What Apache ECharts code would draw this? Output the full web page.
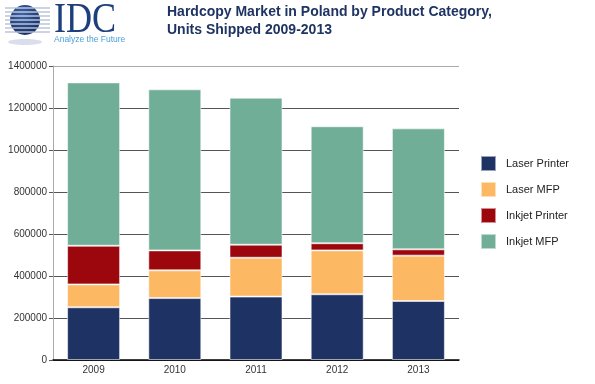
<!DOCTYPE html>
<html>
<head>
<meta charset="utf-8">
<script src="https://cdn.jsdelivr.net/npm/echarts@6/dist/echarts.min.js"></script>
<style>html,body{margin:0;padding:0;background:#fff;}#c{width:595px;height:384px;}</style>
</head>
<body>
<div id="c"></div>
<script>
const categories = ['2009', '2010', '2011', '2012', '2013'];
const laserPrinter = [251000, 295000, 302000, 313000, 281000];
const laserMFP = [109000, 132000, 185000, 209000, 216000];
const inkjetPrinter = [184000, 95000, 62000, 34000, 30000];
const inkjetMFP = [778000, 767000, 700000, 557000, 576000];
const seriesNames = ['Laser Printer', 'Laser MFP', 'Inkjet Printer', 'Inkjet MFP'];
const seriesColors = ['#1e3263', '#fcb862', '#9b070d', '#71ae97'];
const yTicks = [0, 200000, 400000, 600000, 800000, 1000000, 1200000, 1400000];

const chart = echarts.init(document.getElementById('c'), null, {renderer: 'canvas'});
const dataSets = [laserPrinter, laserMFP, inkjetPrinter, inkjetMFP];

// logo graphics
const logo = [];
const stripeYs = [8, 12, 16, 20, 24, 28, 32];
stripeYs.forEach(y => {
  logo.push({type: 'line', shape: {x1: 5, y1: y, x2: 50, y2: y}, style: {stroke: '#9aa8c6', lineWidth: 1.2}, z: 10});
});
logo.push({type: 'ellipse', shape: {cx: 25, cy: 42, rx: 17, ry: 3}, style: {fill: 'rgba(150,160,200,0.35)'}, z: 10});
logo.push({type: 'circle', shape: {cx: 25, cy: 20, r: 15}, style: {fill: new echarts.graphic.RadialGradient(0.4, 0.3, 0.8, [{offset: 0, color: '#3d63a8'}, {offset: 1, color: '#132a5e'}])}, z: 11});
stripeYs.forEach(y => {
  const dy = y - 20;
  if (Math.abs(dy) < 15) {
    const hw = Math.sqrt(225 - dy * dy);
    logo.push({type: 'line', shape: {x1: 25 - hw, y1: y, x2: 25 + hw, y2: y}, style: {stroke: '#ffffff', lineWidth: 1}, z: 12});
  }
});
logo.push({type: 'text', left: 54, top: 0, scaleX: 0.86, style: {text: 'IDC', font: '42px "Liberation Serif", "Times New Roman", serif', fill: '#1e3f7d'}, z: 12});
logo.push({type: 'text', left: 54, top: 35, style: {text: 'Analyze the Future', font: '8.5px "Liberation Sans", Arial, sans-serif', fill: '#4a9fdb'}, z: 12});

chart.setOption({
  animation: false,
  backgroundColor: '#ffffff',
  title: {
    text: 'Hardcopy Market in Poland by Product Category,\nUnits Shipped 2009-2013',
    left: 167, top: 3, padding: 0,
    textStyle: {fontFamily: '"Liberation Sans", Arial, sans-serif', fontSize: 14, fontWeight: 'bold', color: '#1f3463', lineHeight: 18}
  },
  legend: {
    orient: 'vertical', left: 480, top: 155, padding: 0,
    itemWidth: 15, itemHeight: 15, itemGap: 9,
    icon: 'rect',
    data: seriesNames,
    textStyle: {fontFamily: '"Liberation Sans", Arial, sans-serif', fontSize: 11, color: '#222', lineHeight: 15, padding: [0, 0, 0, 5]}
  },
  grid: {left: 53, right: 136, top: 66, bottom: 24, containLabel: false},
  xAxis: {
    type: 'category', data: categories,
    axisLine: {lineStyle: {color: '#000', width: 1.5}},
    axisTick: {show: false},
    axisLabel: {fontFamily: '"Liberation Sans", Arial, sans-serif', fontSize: 10, color: '#333', margin: 5}
  },
  yAxis: {
    type: 'value', min: yTicks[0], max: yTicks[yTicks.length - 1], interval: yTicks[1] - yTicks[0],
    axisLine: {show: true, lineStyle: {color: '#aaa'}},
    axisTick: {show: true, length: 4, lineStyle: {color: '#555'}},
    axisLabel: {fontFamily: '"Liberation Sans", Arial, sans-serif', fontSize: 10, color: '#333', margin: 6, formatter: v => String(v)},
    splitLine: {show: true, lineStyle: {color: ['#555', '#555', '#555', '#555', '#555', '#555', '#555', '#aaa'], width: 1}}
  },
  series: seriesNames.map((name, i) => ({
    name: name, type: 'bar', stack: 'total', data: dataSets[i], barWidth: 53,
    itemStyle: {color: seriesColors[i], borderColor: 'rgba(255,255,255,0.55)', borderWidth: 1}
  })),
  graphic: logo
});
</script>
</body>
</html>
